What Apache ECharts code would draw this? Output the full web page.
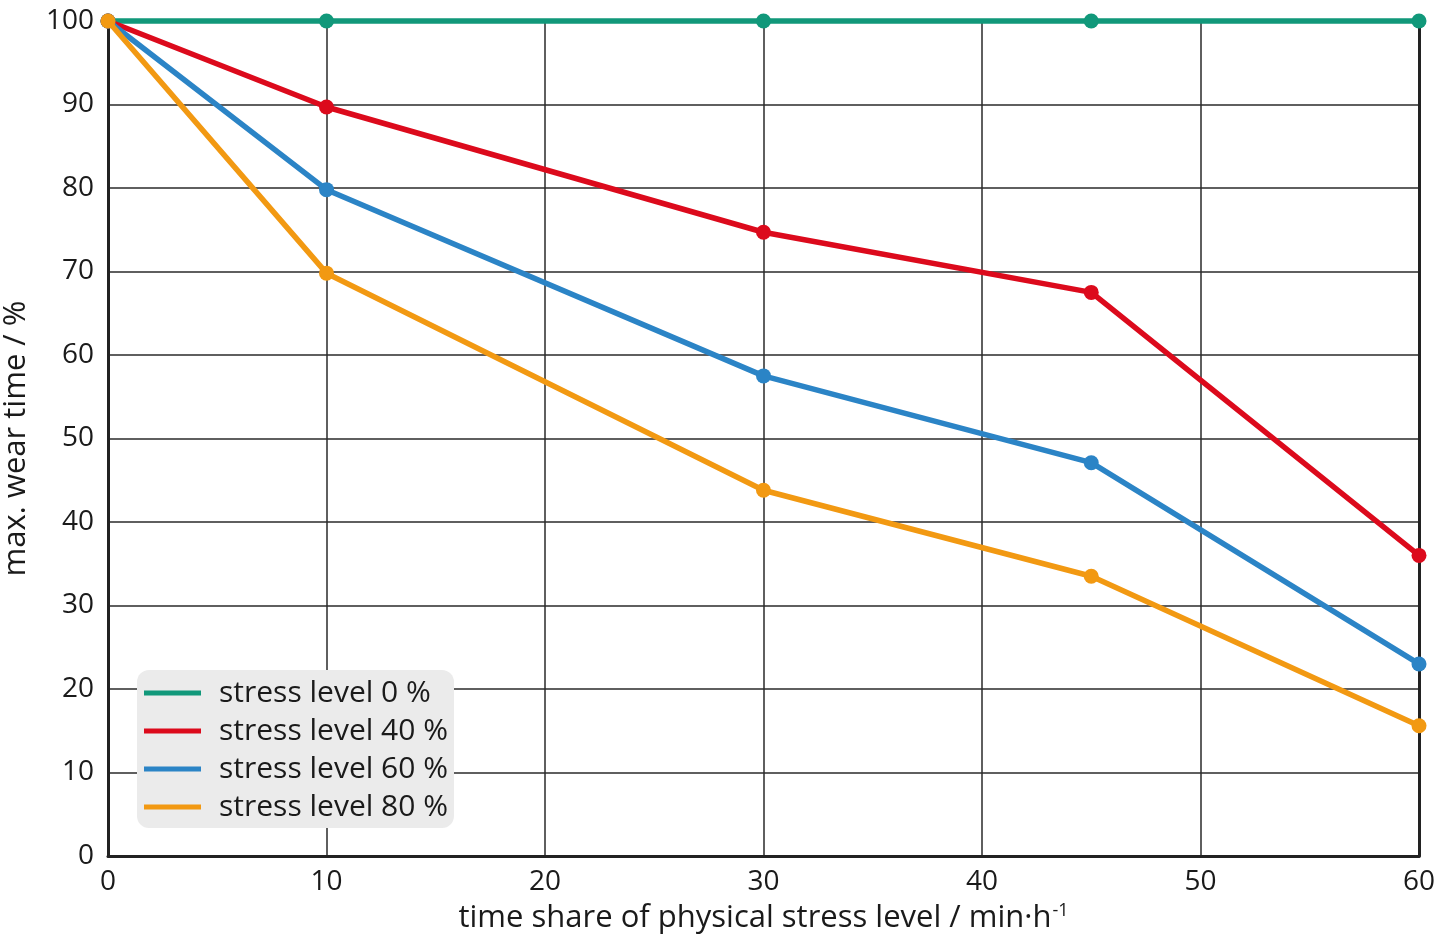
<!DOCTYPE html>
<html>
<head>
<meta charset="utf-8">
<script src="https://cdn.jsdelivr.net/npm/echarts@6/dist/echarts.min.js"></script>
<style>
html,body{margin:0;padding:0;background:#fff;}
#c{width:1441px;height:936px;}
</style>
</head>
<body>
<div id="c"></div>
<script>
const xValues = [0, 10, 30, 45, 60];
const seriesNames = ['stress level 0 %', 'stress level 40 %', 'stress level 60 %', 'stress level 80 %'];
const stress0 = [100, 100, 100, 100, 100];
const stress40 = [100, 89.7, 74.7, 67.5, 36.0];
const stress60 = [100, 79.8, 57.5, 47.1, 23.0];
const stress80 = [100, 69.8, 43.8, 33.5, 15.6];
const colors = ['#11987a', '#dc0a1c', '#2b84c6', '#f29912'];

const allData = [stress0, stress40, stress60, stress80];
const font = '"Open Sans", "Noto Sans", sans-serif';

const chart = echarts.init(document.getElementById('c'));
chart.setOption({
  animation: false,
  backgroundColor: '#fff',
  grid: {left: 108, right: 22, top: 21, bottom: 80, outerBoundsMode: 'none', containLabel: false},
  legend: {
    orient: 'vertical',
    left: 137, top: 670,
    backgroundColor: '#ebebeb',
    borderRadius: 12,
    padding: [7, 6, 5, 7],
    itemWidth: 57, itemHeight: 5,
    itemGap: 6,
    icon: 'rect',
    textStyle: {fontSize: 30, color: '#1a1a1a', fontFamily: font, lineHeight: 32, padding: [0, 0, 0, 13], letterSpacing: 1.5},
    data: seriesNames
  },
  xAxis: {
    type: 'value', min: 0, max: 60, interval: 10,
    name: '{a|time share of physical stress level / min·h}{s|-1}',
    nameLocation: 'middle', nameGap: 46,
    nameTextStyle: {
      rich: {
        a: {fontSize: 31, color: '#1a1a1a', fontFamily: font},
        s: {fontSize: 18, color: '#1a1a1a', fontFamily: font, verticalAlign: 'top', padding: [0, 0, 15, 1]}
      }
    },
    axisLine: {show: true, lineStyle: {color: '#222', width: 3}},
    axisTick: {show: false},
    axisLabel: {fontSize: 28, color: '#1a1a1a', fontFamily: font, margin: 12},
    splitLine: {show: true, lineStyle: {color: '#2a2a2a', width: 1.5}}
  },
  yAxis: [{
    type: 'value', min: 0, max: 100, interval: 10,
    name: 'max. wear time / %',
    nameLocation: 'middle', nameGap: 76,
    nameTextStyle: {fontSize: 31, color: '#1a1a1a', fontFamily: font},
    axisLine: {show: true, lineStyle: {color: '#222', width: 3}},
    axisTick: {show: false},
    axisLabel: {fontSize: 28, color: '#1a1a1a', fontFamily: font, margin: 14},
    splitLine: {show: true, lineStyle: {color: '#2a2a2a', width: 1.5}}
  }, {
    type: 'value', min: 0, max: 100, interval: 10, position: 'right',
    axisLine: {show: true, lineStyle: {color: '#222', width: 3}},
    axisTick: {show: false}, axisLabel: {show: false}, splitLine: {show: false}
  }],
  series: allData.map((d, i) => ({
    name: seriesNames[i],
    type: 'line',
    data: xValues.map((x, j) => [x, d[j]]),
    color: colors[i],
    lineStyle: {width: 5.5, color: colors[i]},
    itemStyle: {color: colors[i]},
    symbol: 'circle', symbolSize: 15,
    z: 2 + i,
    clip: false
  }))
});
</script>
</body>
</html>
